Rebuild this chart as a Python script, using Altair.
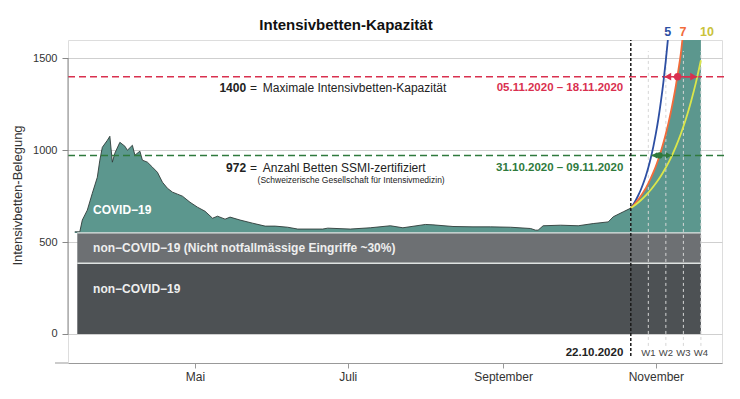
import altair as alt
import pandas as pd

# ---------------- data ----------------
hist_dates = ["2020-03-14", "2020-03-16", "2020-03-17", "2020-03-19", "2020-03-21", "2020-03-23",
              "2020-03-24", "2020-03-25", "2020-03-27", "2020-03-28", "2020-03-29", "2020-03-30",
              "2020-04-01", "2020-04-03", "2020-04-04", "2020-04-06", "2020-04-07", "2020-04-09",
              "2020-04-10", "2020-04-12", "2020-04-14", "2020-04-16", "2020-04-18", "2020-04-20",
              "2020-04-22", "2020-04-24", "2020-04-26", "2020-04-29", "2020-05-02", "2020-05-05",
              "2020-05-08", "2020-05-10", "2020-05-13", "2020-05-15", "2020-05-19", "2020-05-24",
              "2020-05-29", "2020-06-02", "2020-06-07", "2020-06-11", "2020-06-21", "2020-06-23",
              "2020-07-02", "2020-07-10", "2020-07-18", "2020-07-23", "2020-08-01", "2020-08-04",
              "2020-08-12", "2020-08-20", "2020-08-27", "2020-09-04", "2020-09-12", "2020-09-14",
              "2020-09-15", "2020-09-17", "2020-09-24", "2020-10-01", "2020-10-07", "2020-10-13",
              "2020-10-15", "2020-10-19", "2020-10-22"]
hist_total = [556, 556, 620, 674, 766, 853, 946, 1016, 1054, 1076,
              935, 984, 1043, 1022, 1000, 1027, 973, 995, 946, 935,
              908, 880, 826, 793, 772, 761, 750, 717, 690, 668,
              630, 641, 625, 636, 620, 603, 587, 587, 581, 571,
              571, 576, 571, 578, 589, 578, 596, 594, 585, 583,
              583, 581, 574, 565, 565, 589, 592, 589, 601, 610,
              638, 665, 685]

# projections (doubling time 5 / 7 / 10 days)
d5_dates = ["2020-10-22", "2020-10-23", "2020-10-24", "2020-10-25", "2020-10-26", "2020-10-27",
            "2020-10-28", "2020-10-29", "2020-10-30", "2020-10-31", "2020-11-01", "2020-11-02",
            "2020-11-03", "2020-11-04", "2020-11-05", "2020-11-05T19:00"]
d5_vals = [685, 705, 728, 755, 785, 820, 860, 906, 959, 1020, 1090, 1170, 1263, 1368, 1490, 1600]

d7_dates = ["2020-10-22", "2020-10-23", "2020-10-24", "2020-10-25", "2020-10-26", "2020-10-27",
            "2020-10-28", "2020-10-29", "2020-10-30", "2020-10-31", "2020-11-01", "2020-11-02",
            "2020-11-03", "2020-11-04", "2020-11-05", "2020-11-06", "2020-11-07", "2020-11-08",
            "2020-11-09", "2020-11-10", "2020-11-11", "2020-11-11T14:00"]
d7_vals = [685, 699, 715, 732, 751, 772, 794, 820, 848, 879, 913, 951,
           993, 1039, 1090, 1146, 1208, 1277, 1352, 1436, 1528, 1600]

d10_dates = ["2020-10-22", "2020-10-24", "2020-10-26", "2020-10-28", "2020-10-30", "2020-11-01",
             "2020-11-03", "2020-11-05", "2020-11-07", "2020-11-09", "2020-11-11", "2020-11-13",
             "2020-11-15", "2020-11-17", "2020-11-19"]
d10_vals = [685, 705, 728, 755, 785, 820, 860, 906, 959, 1020, 1090, 1170, 1263, 1368, 1490]

cap_end_date = "2020-11-19"
cap_value = 1600

band_start = "2020-03-15"
band_end = "2020-11-19"
noncovid_base = 385
noncovid_elective_top = 550

week_dates = ["2020-10-29", "2020-11-05", "2020-11-12", "2020-11-19"]
week_labels = ["W1", "W2", "W3", "W4"]
today = "2020-10-22"

max_capacity = 1400
ssmi_beds = 972
# arrow ends at the 5-day / 7-day / 10-day crossings
red_cross = ["2020-11-04T07:00", "2020-11-09T17:00", "2020-11-17T14:00"]
green_cross = ["2020-10-30T05:00", "2020-11-02T12:00", "2020-11-07T10:00"]

# ---------------- style ----------------
TEAL = "#5c978e"
OUTLINE = "#2f3b39"
MID = "#6d7073"
DARK = "#4d5154"
RED = "#d9304f"
GREEN = "#2f7a3d"
BLUE = "#2d4fa3"
ORANGE = "#f26b3a"
YELLOW = "#dbe64a"
YLAB = "#c9c23a"
FONT = "Liberation Sans"
W, H = 654, 323

T = lambda s: pd.Timestamp(s)

XSCALE = alt.Scale(domain=[alt.DateTime(year=2020, month=3, date=11, hours=7),
                           alt.DateTime(year=2020, month=11, date=27, hours=10)], nice=False)
XAXIS = alt.Axis(values=[alt.DateTime(year=2020, month=5, date=1), alt.DateTime(year=2020, month=7, date=1),
                         alt.DateTime(year=2020, month=9, date=1), alt.DateTime(year=2020, month=11, date=1)],
                 labelExpr="['Januar','Februar','März','April','Mai','Juni','Juli','August','September','Oktober','November','Dezember'][month(datum.value)]",
                 grid=False, tickSize=5, labelPadding=3, domainColor="#999", tickColor="#999",
                 labelFontSize=12, labelColor="#333", labelFont=FONT)
YSCALE = alt.Scale(domain=[-158, 1600], nice=False, zero=False)
YAXIS = alt.Axis(values=[0, 500, 1000, 1500], format="d", domain=False, grid=True, gridColor="#cfcfcf",
                 tickColor="#888", tickSize=6, labelPadding=5, labelFontSize=11, labelColor="#333",
                 labelFont=FONT, titleFontSize=13, titleFontWeight="normal", titleColor="#333",
                 titleFont=FONT, titleX=-51, titleY=155, titleAngle=270, titleAlign="center",
                 titleBaseline="middle")


def X(f):
    return alt.X(f, type="temporal", scale=XSCALE, axis=XAXIS, title=None)


def Y(f):
    return alt.Y(f, type="quantitative", scale=YSCALE, axis=YAXIS, title="Intensivbetten-Belegung")


df_hist = pd.DataFrame({"x": [T(d) for d in hist_dates], "y": hist_total})
df_proj = pd.DataFrame({"x": [T(d) for d in d7_dates] + [T(cap_end_date)], "y": d7_vals + [cap_value]})

area_hist = alt.Chart(df_hist).mark_area(color=TEAL, opacity=1).encode(
    x=X("x"), y=Y("y"), y2=alt.Y2(datum=noncovid_elective_top))
area_proj = alt.Chart(df_proj).mark_area(color=TEAL, opacity=1, interpolate="monotone").encode(
    x=X("x"), y=Y("y"), y2=alt.Y2(datum=noncovid_elective_top))
outline = alt.Chart(df_hist).mark_line(color=OUTLINE, strokeWidth=0.9).encode(x=X("x"), y=Y("y"))

df_bands = pd.DataFrame({"x": [T(band_start)] * 2, "x2": [T(band_end)] * 2,
                         "y": [0, noncovid_base], "y2": [noncovid_base, noncovid_elective_top],
                         "c": [DARK, MID]})
bands = alt.Chart(df_bands).mark_rect().encode(x=X("x"), x2="x2", y=Y("y"), y2="y2",
                                               color=alt.Color("c:N", scale=None))
df_sep = pd.DataFrame({"x": [T(band_start)] * 2, "x2": [T(band_end)] * 2,
                       "y": [noncovid_base, noncovid_elective_top]})
seps = alt.Chart(df_sep).mark_rule(color="#dfe3e2", strokeWidth=1.3).encode(x=X("x"), x2="x2", y=Y("y"))

df_weeks = pd.DataFrame({"x": [T(d) for d in week_dates], "y": [-65] * 4, "y2": [1540] * 4, "lab": week_labels,
                         "ly": [-103] * 4})
wlines = alt.Chart(df_weeks).mark_rule(color="#d6d6d6", strokeWidth=1, strokeDash=[3, 3]).encode(
    x=X("x"), y=Y("y"), y2="y2")
wtext = alt.Chart(df_weeks).mark_text(fontSize=9.5, color="#444", font=FONT, baseline="middle").encode(
    x=X("x"), y=Y("ly"), text="lab:N")

df_h = pd.DataFrame({"y": [max_capacity, ssmi_beds], "c": [RED, GREEN]})
hlines = alt.Chart(df_h).mark_rule(strokeWidth=1.5, strokeDash=[7, 4]).encode(
    x=alt.value(0), x2=alt.value(W + 3), y=Y("y"), color=alt.Color("c:N", scale=None))

df_curves = pd.concat([
    pd.DataFrame({"x": [T(d) for d in d5_dates], "y": d5_vals, "s": "5"}),
    pd.DataFrame({"x": [T(d) for d in d7_dates], "y": d7_vals, "s": "7"}),
    pd.DataFrame({"x": [T(d) for d in d10_dates], "y": d10_vals, "s": "10"}),
])
curves = alt.Chart(df_curves).mark_line(strokeWidth=1.8, interpolate="monotone").encode(
    x=X("x"), y=Y("y"), detail="s:N",
    color=alt.Color("s:N", scale=alt.Scale(domain=["5", "7", "10"], range=[BLUE, ORANGE, YELLOW]), legend=None))

df_shaft = pd.DataFrame({"x": [T(red_cross[0]), T(green_cross[0])], "x2": [T(red_cross[2]), T(green_cross[2])],
                         "y": [max_capacity, ssmi_beds], "c": [RED, GREEN]})
shafts = alt.Chart(df_shaft).mark_rule(strokeWidth=1.5).encode(x=X("x"), x2="x2", y=Y("y"),
                                                               color=alt.Color("c:N", scale=None))
off_r = pd.Timedelta(hours=36)
off_g = pd.Timedelta(hours=30)
df_heads = pd.DataFrame({
    "x": [T(red_cross[0]) + off_r, T(red_cross[2]) - off_r, T(green_cross[0]) + off_g, T(green_cross[2]) - off_g],
    "y": [max_capacity, max_capacity, ssmi_beds, ssmi_beds],
    "shape": ["triangle-left", "triangle-right", "triangle-left", "triangle-right"],
    "c": [RED, RED, GREEN, GREEN], "sz": [60, 60, 40, 40]})
heads = alt.Chart(df_heads).mark_point(filled=True, opacity=1).encode(
    x=X("x"), y=Y("y"), shape=alt.Shape("shape:N", scale=None), color=alt.Color("c:N", scale=None),
    size=alt.Size("sz:Q", scale=None))
df_dots = pd.DataFrame({"x": [T(red_cross[1]), T(green_cross[1])], "y": [max_capacity, ssmi_beds],
                        "c": [RED, GREEN], "sz": [55, 38]})
dots = alt.Chart(df_dots).mark_point(filled=True, opacity=1, shape="circle").encode(
    x=X("x"), y=Y("y"), color=alt.Color("c:N", scale=None), size=alt.Size("sz:Q", scale=None))

df_today = pd.DataFrame({"x": [T(today)], "y": [-120], "y2": [1600]})
today_rule = alt.Chart(df_today).mark_rule(color="#1a1a1a", strokeWidth=1.5, strokeDash=[3, 2]).encode(
    x=X("x"), y=Y("y"), y2="y2")

df_yaxis = pd.DataFrame({"y": [0], "y2": [1500]})
yaxis_line = alt.Chart(df_yaxis).mark_rule(color="#888", strokeWidth=1).encode(
    x=alt.value(0), y=Y("y"), y2="y2")
xaxis_ext = alt.Chart(df_yaxis).mark_rule(color="#999", strokeWidth=1).encode(
    x=alt.value(-13), x2=alt.value(0), y=alt.value(H))


def txt(rows, align="left", size=12, weight="normal", color="#222"):
    df = pd.DataFrame(rows, columns=["x", "y", "t"])
    df["x"] = df["x"].map(T)
    return alt.Chart(df).mark_text(align=align, baseline="middle", fontSize=size, fontWeight=weight,
                                   color=color, font=FONT).encode(x=X("x"), y=Y("y"), text="t:N")


texts = [
    txt([("2020-05-21T10:00", 1337, "1400"), ("2020-05-21T10:00", 902, "972")], align="right", weight="bold"),
    txt([("2020-05-23", 1337, "="), ("2020-05-23", 902, "=")]),
    txt([("2020-05-28T02:00", 1337, "Maximale Intensivbetten-Kapazität"),
         ("2020-05-28T02:00", 902, "Anzahl Betten SSMI-zertifiziert")]),
    txt([("2020-05-26", 837, "(Schweizerische Gesellschaft für Intensivmedizin)")], size=8.5),
    txt([("2020-10-19", 1337, "05.11.2020 – 18.11.2020")], align="right", size=11.5, weight="bold", color=RED),
    txt([("2020-10-19", 902, "31.10.2020 – 09.11.2020")], align="right", size=11.5, weight="bold", color=GREEN),
    txt([("2020-10-19", -103, "22.10.2020")], align="right", size=11.5, weight="bold", color="#222"),
    txt([("2020-03-21T07:00", 674, "COVID−19")], weight="bold", color="#ffffff"),
    txt([("2020-03-21T07:00", 467, "non−COVID−19 (Nicht notfallmässige Eingriffe ~30%)"),
         ("2020-03-21T07:00", 245, "non−COVID−19")], weight="bold", color="#eeeeee"),
    txt([("2020-11-05T19:00", 1641, "5")], align="center", size=12.5, weight="bold", color=BLUE),
    txt([("2020-11-11T19:00", 1641, "7")], align="center", size=12.5, weight="bold", color=ORANGE),
    txt([("2020-11-21T10:00", 1641, "10")], align="center", size=12.5, weight="bold", color=YLAB),
]

title = alt.Chart(df_yaxis).mark_text(text="Intensivbetten-Kapazität", fontSize=15, fontWeight="bold",
                                      color="#111", font=FONT, align="center", baseline="middle").encode(
    x=alt.value(278), y=alt.value(-15))

chart = alt.layer(
    area_hist, area_proj, outline, bands, seps, wlines, hlines, curves, shafts, heads, dots,
    today_rule, yaxis_line, xaxis_ext, wtext, *texts, title
).properties(
    width=W, height=H,
    autosize=alt.AutoSizeParams(type="none"),
    padding={"left": 60, "top": 32, "right": 10, "bottom": 28},
).configure_view(stroke=None).configure(font=FONT)

chart.save("out.html", embed_options={"renderer": "svg", "actions": False})
